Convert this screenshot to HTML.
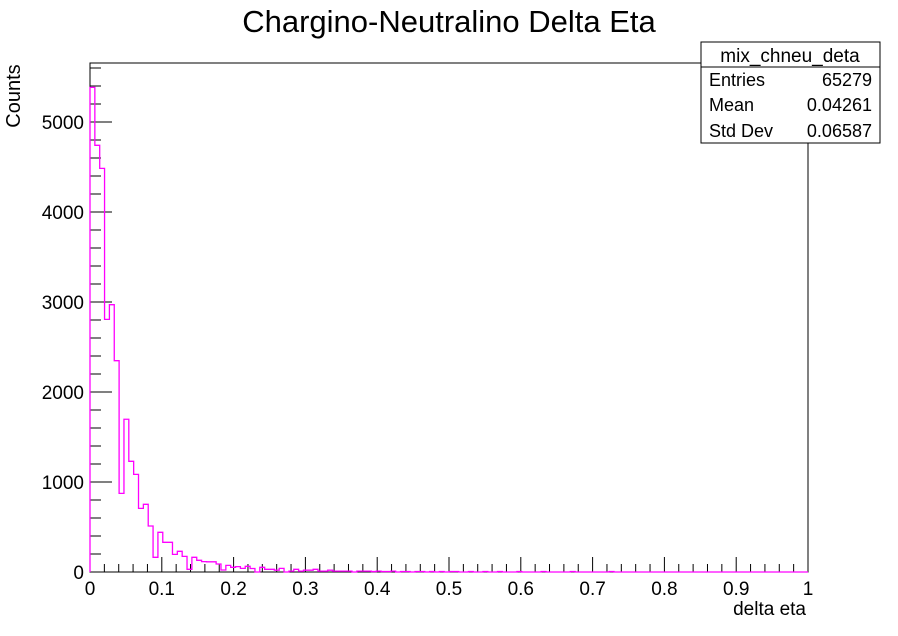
<!DOCTYPE html>
<html><head><meta charset="utf-8"><style>
html,body{margin:0;padding:0;background:#fff;}
svg{display:block;font-family:"Liberation Sans",Arial,sans-serif;}
</style></head><body>
<svg id="chart" width="898" height="636" viewBox="0 0 898 636">
<text x="449" y="32" text-anchor="middle" font-size="31" fill="#000">Chargino-Neutralino Delta Eta</text>
<rect x="90" y="63" width="718" height="509" fill="none" stroke="#000" stroke-width="1"/>
<g id="axes"></g>
<path id="hist" fill="none" stroke="#ff00ff" stroke-width="1.3"/>
<text x="0" y="0" transform="translate(20,96) rotate(-90)" text-anchor="middle" font-size="20">Counts</text>
<text x="806" y="615" text-anchor="end" font-size="19">delta eta</text>
<g>
<rect x="701" y="42" width="179" height="101" fill="#fff" stroke="#000"/>
<line x1="701" y1="67" x2="880" y2="67" stroke="#000"/>
<text x="790" y="62" text-anchor="middle" font-size="19">mix_chneu_deta</text>
<text x="709" y="86" font-size="18">Entries</text><text x="872" y="86" text-anchor="end" font-size="18">65279</text>
<text x="709" y="111" font-size="18">Mean</text><text x="872" y="111" text-anchor="end" font-size="18">0.04261</text>
<text x="709" y="137" font-size="18">Std Dev</text><text x="872" y="137" text-anchor="end" font-size="18">0.06587</text>
</g>
</svg>
<script>
const counts = [5385,4741,4485,2807,2970,2348,874,1697,1230,1085,707,752,511,163,441,330,330,196,230,174,30,163,130,115,113,113,89,22,74,52,60,40,63,39,0,52,30,30,20,40,0,10,30,10,20,20,30,10,10,20,10,10,10,10,0,10,10,10,5,10,5,5,10,0,5,5,0,5,5,0,5,0,5,0,5,5,0,0,5,0,0,5,0,0,5,0,0,0,5,0,0,0,0,5,0,0,0,0,0,5,0,0,0,0,0,0,0,5,0,0,0,0,0,0,0,0,0,0,0,0,0,0,0,0,0,0,0,0,0,0,0,0,0,0,0,0,0,0,0,0,0,0,0,0,0,0,0,0];
const xTicks = ["0","0.1","0.2","0.3","0.4","0.5","0.6","0.7","0.8","0.9","1"];
const yTicks = ["0","1000","2000","3000","4000","5000"];
const X0=90,X1=808,Y0=572,PX_PER=0.09;
const xs = v => X0 + (X1-X0)*v;
const ys = c => Y0 - c*PX_PER;
const ns="http://www.w3.org/2000/svg";
const axes=document.getElementById('axes');
function ln(x1,y1,x2,y2){const l=document.createElementNS(ns,'line');l.setAttribute('x1',x1);l.setAttribute('y1',y1);l.setAttribute('x2',x2);l.setAttribute('y2',y2);l.setAttribute('stroke','#000');axes.appendChild(l);return l;}
for(let i=0;i<=50;i++){const v=i*0.02;const major=i%5===0;
 const t=ln(xs(v),Y0,xs(v),Y0-(major?15:8));
 
 }
xTicks.forEach((s,i)=>{const t=document.createElementNS(ns,'text');t.setAttribute('x',xs(i*0.1));t.setAttribute('y',Y0+23);t.setAttribute('text-anchor','middle');t.setAttribute('font-size','19');t.textContent=s;
 
 
 axes.appendChild(t);});
for(let c=0;ys(c)>=63;c+=200){const major=c%1000===0;
 const t=ln(X0,ys(c),X0+(major?22:11),ys(c));
 
 }
yTicks.forEach(s=>{const c=+s;const t=document.createElementNS(ns,'text');t.setAttribute('x',X0-6);t.setAttribute('y',ys(c)+7);t.setAttribute('text-anchor','end');t.setAttribute('font-size','19');t.textContent=s;
 
 
 axes.appendChild(t);});
const n=counts.length;let d='M'+xs(0)+','+ys(0);
counts.forEach((c,i)=>{d+=' L'+xs(i/n)+','+ys(c)+' L'+xs((i+1)/n)+','+ys(c);});
d+=' L'+xs(1)+','+ys(0);
document.getElementById('hist').setAttribute('d',d);
</script>
</body></html>
